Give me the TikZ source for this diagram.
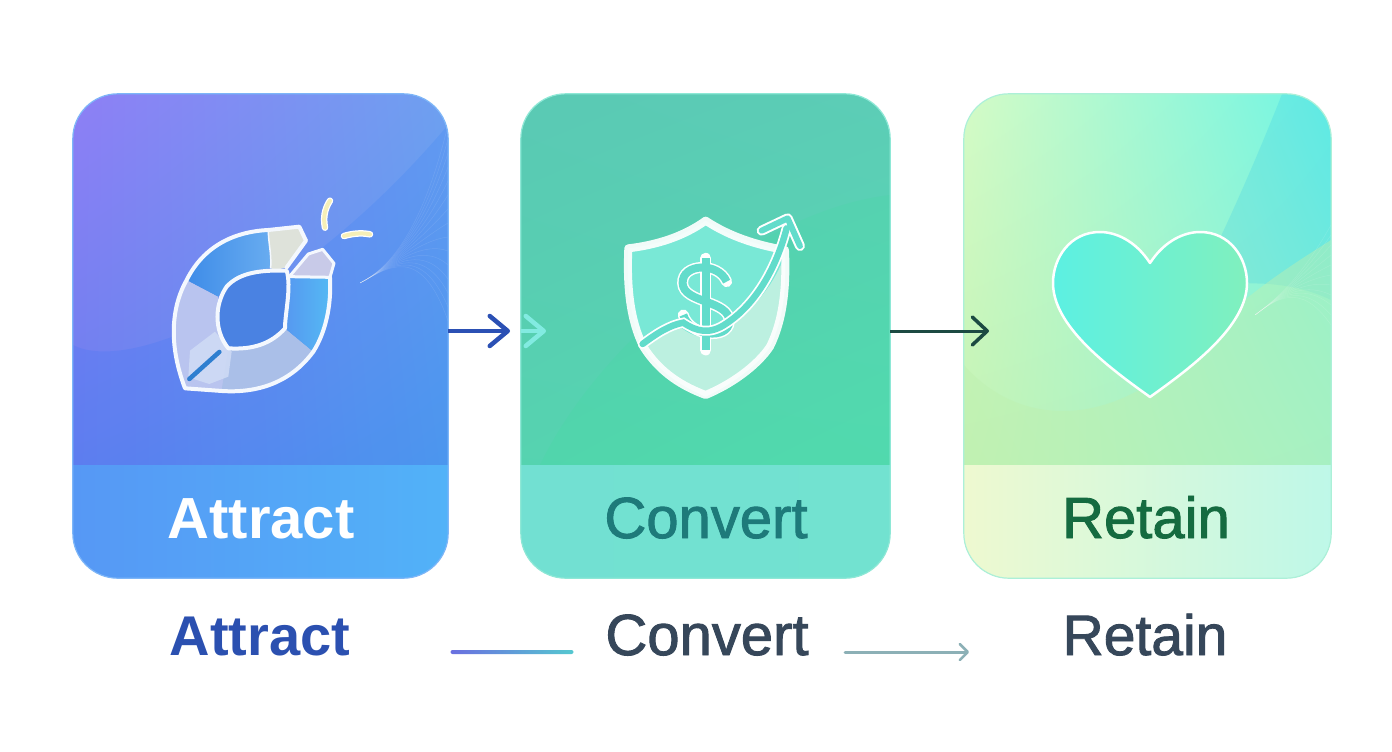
\documentclass[tikz,border=0pt]{standalone}
\usepackage{fontspec}
\setmainfont{Liberation Sans}
\newfontfamily\labelfont[FakeBold=1.6]{Liberation Sans}
\usetikzlibrary{arrows.meta,shadings}
\definecolor{ringwhite}{HTML}{F4F8FE}
\definecolor{sparkcream}{HTML}{F6EFB8}
\definecolor{dollarteal}{HTML}{62DCCB}
\definecolor{attractul}{HTML}{8E7FF5}
\definecolor{attractur}{HTML}{6EA0F0}
\definecolor{attractll}{HTML}{5C80EC}
\definecolor{attractlr}{HTML}{4C9BEC}
\definecolor{attractsl}{HTML}{5698F5}
\definecolor{attractsr}{HTML}{52B2F8}
\definecolor{attractrim}{HTML}{7DB6F8}
\definecolor{convertul}{HTML}{5AC9B4}
\definecolor{convertur}{HTML}{5CCDB6}
\definecolor{convertll}{HTML}{54D6AE}
\definecolor{convertlr}{HTML}{54DCB0}
\definecolor{convertsl}{HTML}{72E0D2}
\definecolor{convertsr}{HTML}{72E2D0}
\definecolor{convertrim}{HTML}{8EE8D6}
\definecolor{retainul}{HTML}{D4FBC6}
\definecolor{retainur}{HTML}{6EF5E4}
\definecolor{retainll}{HTML}{BEF0AF}
\definecolor{retainlr}{HTML}{A0F0CD}
\definecolor{retainsl}{HTML}{EEF9D0}
\definecolor{retainsr}{HTML}{BEF8E8}
\definecolor{retainrim}{HTML}{ACF0D8}
\definecolor{attractink}{HTML}{2B50B0}
\definecolor{convertink}{HTML}{1E7A7A}
\definecolor{retainink}{HTML}{156B40}
\definecolor{slateink}{HTML}{36475A}
\definecolor{arrowblue}{HTML}{2B50B4}
\definecolor{arrowaqua}{HTML}{82EBE1}
\definecolor{arrowdark}{HTML}{1C4A42}
\definecolor{arrowgrey}{HTML}{8CB0B6}
\definecolor{linestart}{HTML}{6A6FE0}
\definecolor{lineend}{HTML}{55C8D0}
\definecolor{ringlilac}{HTML}{B9C4EF}
\definecolor{ringpale}{HTML}{AABFE8}
\definecolor{ringblue}{HTML}{3E8CE8}
\definecolor{ringsky}{HTML}{68ACF0}
\definecolor{ringmid}{HTML}{5698F0}
\definecolor{ringcyan}{HTML}{54BAF4}
\definecolor{ringbeige}{HTML}{DEE2DA}
\definecolor{ringmauve}{HTML}{C8CAE8}
\definecolor{ringhole}{HTML}{4A82E2}
\definecolor{nibpale}{HTML}{D0DCF5}
\definecolor{nibblue}{HTML}{2F7FD0}
\definecolor{shieldtop}{HTML}{79E8D6}
\definecolor{shieldlow}{HTML}{BCF0E0}
\definecolor{heartl}{HTML}{5CF0E2}
\definecolor{heartr}{HTML}{80F0BE}
\begin{document}
\begin{tikzpicture}[x=1pt,y=-1pt]
\tikzstyle{cardbox}=[shade, rounded corners=45pt, inner sep=0pt, minimum height=484pt]
\tikzstyle{cardtext}=[anchor=base, inner sep=0pt, font=\labelfont\fontsize{58}{60}\selectfont]
\tikzstyle{plaintext}=[anchor=base, inner sep=0pt, font=\labelfont\fontsize{57}{60}\selectfont]
\tikzstyle{flowarrow}=[line width=4pt, -{Straight Barb[length=18pt,width=30pt,line width=4.5pt,round]}]
\tikzstyle{ringline}=[draw=ringwhite, line width=4pt, line join=round, line cap=round]
\useasboundingbox (0,0) rectangle (1392,752);
\fill[white] (0,0) rectangle (1392,752);
\node (attract) at (260.5,336) [cardbox, minimum width=375pt, upper left=attractul, upper right=attractur, lower left=attractll, lower right=attractlr] {};
\node (convert) at (705.5,336) [cardbox, minimum width=369pt, upper left=convertul, upper right=convertur, lower left=convertll, lower right=convertlr] {};
\node (retain) at (1147.5,336) [cardbox, minimum width=367pt, upper left=retainul, upper right=retainur, lower left=retainll, lower right=retainlr] {};
\begin{scope}
\clip[rounded corners=45pt] (attract.south west) rectangle (attract.north east);
\fill[blue!60!cyan, opacity=.10] (73,345) .. controls (130,375) and (300,300) .. (448,125) -- (448,465) -- (73,465) -- cycle;
\foreach \i in {0,...,14}
\draw[white, opacity=.10, line width=.5pt] (360,283) .. controls (385,270) and (420,240) .. (448,{125+\i*14});
\fill[left color=attractsl, right color=attractsr] (73,465) rectangle (448,578);
\end{scope}
\begin{scope}
\clip[rounded corners=45pt] (convert.south west) rectangle (convert.north east);
\fill[green!60!cyan, opacity=.05] (540,465) .. controls (600,340) and (760,210) .. (890,195) -- (890,465) -- cycle;
\fill[left color=convertsl, right color=convertsr] (521,465) rectangle (890,578);
\end{scope}
\begin{scope}
\clip[rounded corners=45pt] (retain.south west) rectangle (retain.north east);
\fill[cyan, opacity=.14] (1195,290) .. controls (1230,220) and (1260,150) .. (1282,94) -- (1331,94) -- (1331,300) .. controls (1290,280) and (1240,280) .. (1195,290) -- cycle;
\fill[retainll, opacity=.45] (964,365) .. controls (1020,430) and (1120,430) .. (1200,340) .. controls (1250,290) and (1300,260) .. (1331,240) -- (1331,465) -- (964,465) -- cycle;
\foreach \i in {0,...,10}
\draw[white, opacity=.12, line width=.5pt] (1255,315) .. controls (1275,300) and (1300,280) .. (1331,{225+\i*10});
\fill[left color=retainsl, right color=retainsr] (964,465) rectangle (1331,578);
\end{scope}
\draw[attractrim, line width=1.2pt, rounded corners=45pt] (attract.south west) rectangle (attract.north east);
\draw[convertrim, line width=1.2pt, rounded corners=45pt] (convert.south west) rectangle (convert.north east);
\draw[retainrim, line width=1.2pt, rounded corners=45pt] (retain.south west) rectangle (retain.north east);
\node (attracttext) at (261,538) [cardtext, text=white, font=\bfseries\fontsize{58}{60}\selectfont] {Attract};
\node (converttext) at (706,538) [cardtext, text=convertink] {Convert};
\node (retaintext) at (1146,538) [cardtext, text=retainink] {Retain};
\node (attractlabel) at (260,655) [plaintext, text=attractink, font=\bfseries\fontsize{56}{60}\selectfont] {Attract};
\node (convertlabel) at (707,655) [plaintext, text=slateink, font=\labelfont\fontsize{58}{60}\selectfont] {Convert};
\node (retainlabel) at (1145,655) [plaintext, text=slateink] {Retain};
\coordinate (a1) at (448,331);
\coordinate (a2) at (510,331);
\coordinate (b1) at (521,331);
\coordinate (b2) at (546,331);
\coordinate (c1) at (890,331);
\coordinate (c2) at (989,331);
\coordinate (d1) at (845,652);
\coordinate (d2) at (969,652);
\draw[flowarrow, draw=arrowblue] (a1) -- (a2);
\draw[flowarrow, draw=arrowaqua] (b1) -- (b2);
\draw[line width=3pt, -{Straight Barb[length=15pt,width=28pt,line width=3.5pt,round]}, draw=arrowdark] (c1) -- (c2);
\draw[line width=3pt, line cap=round, -{Straight Barb[length=8pt,width=16pt,line width=2.5pt,round]}, draw=arrowgrey] (d1) -- (d2);
\node (attractline) at (512,652) [rounded corners=2pt, minimum width=123pt, minimum height=4pt, inner sep=0pt, left color=linestart, right color=lineend] {};
\begin{scope}[shift={(150,180)},x=.3333pt,y=-.3333pt]
\fill[ringlilac] (105,625) .. controls (50,480) and (70,370) .. (110,300) -- (205,350) .. controls (195,410) and (205,460) .. (235,500) -- (245,515) -- (235,590) -- (215,630) -- cycle;
\fill[ringpale] (235,505) .. controls (310,510) and (370,490) .. (405,445) -- (490,515) .. controls (420,610) and (320,640) .. (215,630) -- cycle;
\path[left color=ringblue, right color=ringsky] (110,300) .. controls (160,200) and (250,155) .. (355,150) -- (362,265) .. controls (290,270) and (235,290) .. (205,350) -- cycle;
\path[left color=ringmid, right color=ringcyan] (418,292) -- (540,292) .. controls (545,380) and (525,460) .. (490,515) -- (405,445) .. controls (420,390) and (405,340) .. (418,292) -- cycle;
\fill[ringbeige] (355,150) -- (448,140) -- (468,182) -- (410,262) -- (378,270) -- (362,265) .. controls (365,220) and (355,190) .. (355,150) -- cycle;
\fill[ringhole] (235,505) .. controls (190,450) and (195,370) .. (230,320) .. controls (270,275) and (340,270) .. (410,272) .. controls (425,320) and (405,400) .. (405,445) .. controls (365,490) and (310,510) .. (235,505) -- cycle;
\path[fill=nibpale, opacity=.85] (115,592) -- (120,512) -- (195,455) -- (245,515) -- (235,590) -- (178,612) -- cycle;
\path[ringline, fill=ringmauve, line width=3pt] (418,290) -- (475,222) -- (518,208) -- (552,250) -- (540,292) -- cycle;
\draw[ringline] (235,505) .. controls (190,450) and (195,370) .. (230,320) .. controls (270,275) and (340,270) .. (410,272) .. controls (425,320) and (405,400) .. (405,445) .. controls (365,490) and (310,510) .. (235,505) -- cycle;
\draw[ringline] (490,515) .. controls (420,610) and (320,640) .. (215,633) -- (105,625) .. controls (50,480) and (70,370) .. (110,300) .. controls (160,200) and (250,155) .. (355,150) -- (448,140) -- (468,182) -- (410,262);
\draw[ringline] (540,292) .. controls (545,380) and (525,460) .. (490,515);
\draw[ringwhite, line width=1.5pt] (355,150) .. controls (355,190) and (365,220) .. (362,265);
\draw[nibblue, line width=4.5pt, line cap=round] (118,597) -- (208,516);
\draw[white, line width=6.5pt, line cap=round] (540,62) .. controls (522,90) and (520,115) .. (525,143);
\draw[sparkcream, line width=4pt, line cap=round] (540,62) .. controls (522,90) and (520,115) .. (525,143);
\draw[white, line width=6.5pt, line cap=round] (582,168) .. controls (610,160) and (635,158) .. (660,163);
\draw[sparkcream, line width=4pt, line cap=round] (582,168) .. controls (610,160) and (635,158) .. (660,163);
\end{scope}
\begin{scope}[shift={(440,200)},x=.3333pt,y=-.3333pt]
\path[fill=shieldtop] (797,62) .. controls (730,110) and (650,135) .. (565,145) .. controls (560,260) and (570,360) .. (610,440) .. controls (660,520) and (730,560) .. (797,590) .. controls (870,555) and (950,500) .. (990,440) .. controls (1030,360) and (1040,260) .. (1035,150) .. controls (950,135) and (870,110) .. (797,62) -- cycle;
\fill[shieldlow] (612,445) .. controls (650,420) and (680,395) .. (725,385) .. controls (760,410) and (800,425) .. (850,395) .. controls (930,340) and (1000,260) .. (1033,170) .. controls (1040,260) and (1030,360) .. (990,440) .. controls (950,500) and (870,555) .. (797,590) .. controls (730,560) and (660,520) .. (612,445) -- cycle;
\draw[white, line width=8pt, line join=round, opacity=.92] (797,62) .. controls (730,110) and (650,135) .. (565,145) .. controls (560,260) and (570,360) .. (610,440) .. controls (660,520) and (730,560) .. (797,585) .. controls (870,555) and (950,500) .. (990,440) .. controls (1030,360) and (1040,260) .. (1035,150) .. controls (950,135) and (870,110) .. (797,62) -- cycle;
\draw[white, line width=11pt, line cap=round] (797,175) -- (797,450);
\draw[white, line width=11pt, line cap=round] (860,245) .. controls (835,185) and (725,190) .. (728,250) .. controls (730,310) and (870,300) .. (868,365) .. controls (865,420) and (750,410) .. (730,345);
\draw[dollarteal, line width=8pt] (797,175) -- (797,450);
\draw[dollarteal, line width=8pt] (860,245) .. controls (835,185) and (725,190) .. (728,250) .. controls (730,310) and (870,300) .. (868,365) .. controls (865,420) and (750,410) .. (730,345);
\draw[white, line width=10pt, line cap=round] (608,432) .. controls (650,400) and (690,375) .. (730,368) .. controls (770,395) and (810,405) .. (860,370) .. controls (950,310) and (1010,200) .. (1040,85);
\draw[white, line width=10pt, line cap=round, line join=round] (965,92) -- (1043,55) -- (1080,138);
\draw[dollarteal, line width=6.5pt, line cap=round] (608,432) .. controls (650,400) and (690,375) .. (730,368) .. controls (770,395) and (810,405) .. (860,370) .. controls (950,310) and (1010,200) .. (1040,85);
\draw[dollarteal, line width=6pt, line cap=round, line join=round] (965,92) -- (1043,55) -- (1080,138);
\end{scope}
\path[draw=white, line width=2.5pt, line join=round, left color=heartl, right color=heartr] (1150,263) .. controls (1165,240) and (1185,232) .. (1200,232) .. controls (1230,232) and (1247,258) .. (1247,283) .. controls (1247,325) and (1195,365) .. (1150,397) .. controls (1105,365) and (1053,325) .. (1053,283) .. controls (1053,258) and (1070,232) .. (1100,232) .. controls (1115,232) and (1135,240) .. (1150,263) -- cycle;
\end{tikzpicture}
\end{document}
